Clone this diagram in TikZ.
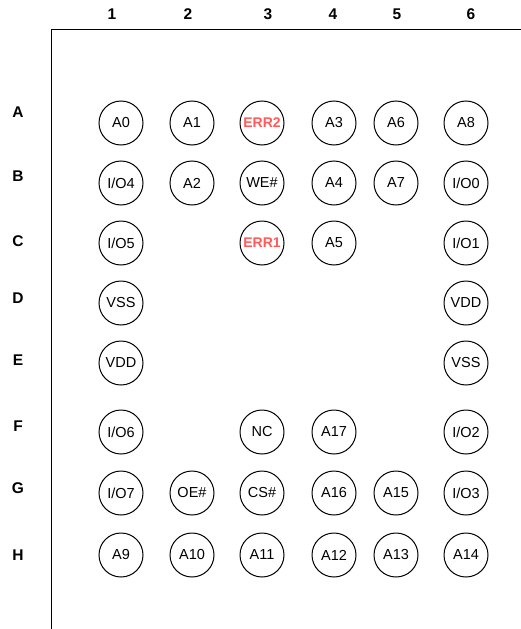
\documentclass[tikz,border=0pt]{standalone}
\usepackage{fontspec}
\setmainfont{Liberation Sans}
\usetikzlibrary{positioning}
\definecolor{errred}{RGB}{255,90,90}

\begin{document}
\begin{tikzpicture}[x=1pt, y=-1pt, ball/.style={draw, circle, line width=1pt, minimum size=44pt, inner sep=0pt, font=\fontsize{14.5}{17}\selectfont}, errball/.style={ball, text=errred, font=\fontsize{14}{17}\selectfont\bfseries}, gridlabel/.style={font=\fontsize{15.5}{17}\selectfont\bfseries}]
      \useasboundingbox (0,0) rectangle (521,629);
      \draw[line width=1pt] (51,629) |- (521,29);

      \node[gridlabel] (c1) at (112,14) {1}; \node[gridlabel] (c2) at (188,14) {2};
      \node[gridlabel] (c3) at (268,14) {3}; \node[gridlabel] (c4) at (333,14) {4};
      \node[gridlabel] (c5) at (397,14) {5}; \node[gridlabel] (c6) at (471,14) {6};
      \node[gridlabel] (rA) at (18,112) {A}; \node[gridlabel] (rB) at (18,176) {B};
      \node[gridlabel] (rC) at (18,241) {C}; \node[gridlabel] (rD) at (18,298) {D};
      \node[gridlabel] (rE) at (18,360) {E}; \node[gridlabel] (rF) at (18,426) {F};
      \node[gridlabel] (rG) at (18,488) {G}; \node[gridlabel] (rH) at (18,555) {H};

      \node[ball] (A1) at (121,123) {A0}; \node[ball] (A2) at (192,123) {A1};
      \node[errball] (A3) at (262,123) {ERR2}; \node[ball] (A4) at (334,123) {A3};
      \node[ball] (A5) at (396,123) {A6}; \node[ball] (A6) at (466,123) {A8};

      \node[ball] (B1) at (121,183) {I/O4}; \node[ball] (B2) at (192,183) {A2};
      \node[ball] (B3) at (262,183) {WE\#}; \node[ball] (B4) at (334,183) {A4};
      \node[ball] (B5) at (396,183) {A7}; \node[ball] (B6) at (466,183) {I/O0};

      \node[ball] (C1) at (121,243) {I/O5}; \node[errball] (C3) at (262,243) {ERR1};
      \node[ball] (C4) at (334,243) {A5}; \node[ball] (C6) at (466,243) {I/O1};

      \node[ball] (D1) at (121,303) {VSS}; \node[ball] (D6) at (466,303) {VDD};
      \node[ball] (E1) at (121,363) {VDD}; \node[ball] (E6) at (466,363) {VSS};

      \node[ball] (F1) at (121,432) {I/O6}; \node[ball] (F3) at (262,432) {NC};
      \node[ball] (F4) at (334,432) {A17}; \node[ball] (F6) at (466,432) {I/O2};

      \node[ball] (G1) at (121,493) {I/O7}; \node[ball] (G2) at (192,493) {OE\#};
      \node[ball] (G3) at (262,493) {CS\#}; \node[ball] (G4) at (334,493) {A16};
      \node[ball] (G5) at (396,493) {A15}; \node[ball] (G6) at (466,493) {I/O3};

      \node[ball] (H1) at (121,555) {A9}; \node[ball] (H2) at (192,555) {A10};
      \node[ball] (H3) at (262,555) {A11}; \node[ball] (H4) at (334,555) {A12};
      \node[ball] (H5) at (396,555) {A13}; \node[ball] (H6) at (466,555) {A14};
    \end{tikzpicture}
\end{document}
